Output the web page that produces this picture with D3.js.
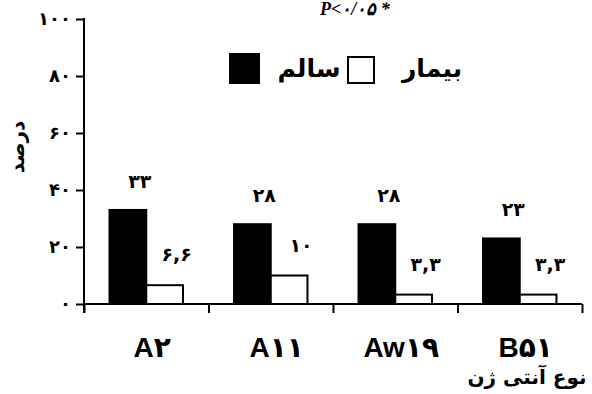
<html>
    <head>
        <meta charset="utf-8">
        <title>Antigen chart</title>
        <style>
            body { margin: 0; background: #fff; }
            text { font-weight: bold; fill: #000; }
        </style>
    </head>
    <body>
        <svg id="container" width="592" height="394"></svg>
    </body>
    <script src="https://d3js.org/d3.v7.min.js"></script>
    <script>
        // data
        let antigens = ["A۲", "A۱۱", "Aw۱۹", "B۵۱"]
        let series = ["سالم", "بیمار"]
        let healthy = [33, 28, 28, 23]
        let sick = [6.6, 10, 3.3, 3.3]
        let healthyLabels = ["۳۳", "۲۸", "۲۸", "۲۳"]
        let sickLabels = ["۶,۶", "۱۰", "۳,۳", "۳,۳"]
        let yTicks = [0, 20, 40, 60, 80, 100]

        let fa = "0123456789"
        let faDigits = "۰۱۲۳۴۵۶۷۸۹"
        function toFa(n) {
            return String(n).split("").map(c => fa.indexOf(c) >= 0 ? faDigits[fa.indexOf(c)] : c).join("")
        }

        let svg = d3.select("#container")
        let plotLeft = 84, plotRight = 582, plotTop = 19, plotBottom = 304

        let y = d3.scaleLinear().domain([0, 100]).range([plotBottom, plotTop])
        let x = d3.scaleBand().domain(antigens).range([plotLeft, plotRight])
                  .paddingInner(0.41).paddingOuter(0.205)
        let inner = d3.scaleBand().domain(series).range([0, x.bandwidth()])

        // bars
        let rows = antigens.map((a, i) => ({a: a, values: [
            {s: series[0], v: healthy[i], label: healthyLabels[i], fill: "#000"},
            {s: series[1], v: sick[i], label: sickLabels[i], fill: "#fff"}
        ]}))

        let groups = svg.selectAll("g.grp").data(rows).enter()
            .append("g").attr("class", "grp")
            .attr("transform", d => `translate(${x(d.a)},0)`)

        groups.selectAll("rect").data(d => d.values).enter()
            .append("rect")
            .attr("x", d => inner(d.s))
            .attr("y", d => y(d.v))
            .attr("width", inner.bandwidth())
            .attr("height", d => y(0) - y(d.v))
            .attr("fill", d => d.fill)
            .attr("stroke", "#000")
            .attr("stroke-width", 2)

        groups.selectAll("text").data(d => d.values).enter()
            .append("text")
            .attr("x", d => inner(d.s) + inner.bandwidth() / 2 + 12)
            .attr("y", (d, i) => y(d.v) - (i == 0 ? 22 : 24))
            .attr("text-anchor", "middle")
            .attr("font-family", "DejaVu Sans")
            .attr("font-size", 19)
            .attr("letter-spacing", (d, i) => i == 0 ? 0 : 2)
            .text(d => d.label)

        // y axis
        let yAxis = d3.axisLeft(y).tickValues(yTicks).tickSize(8).tickPadding(5)
                      .tickFormat(d => toFa(d))
        let gy = svg.append("g").attr("transform", `translate(${plotLeft},0)`).call(yAxis)
        gy.select(".domain").remove()
        gy.selectAll("line").attr("stroke", "#000").attr("stroke-width", 2)
        gy.selectAll("text").attr("font-family", "DejaVu Sans").attr("font-size", 18)
          .attr("font-weight", "bold")
        svg.append("line").attr("x1", plotLeft).attr("x2", plotLeft)
           .attr("y1", y(100) - 1).attr("y2", plotBottom + 9)
           .attr("stroke", "#000").attr("stroke-width", 2)

        // x axis: line with ticks on category borders
        let edges = d3.scaleLinear().domain([0, antigens.length]).range([plotLeft, plotRight])
        let xAxis = d3.axisBottom(edges).tickValues(d3.range(antigens.length + 1))
                      .tickSize(9).tickFormat("")
        let gx = svg.append("g").attr("transform", `translate(0,${plotBottom})`).call(xAxis)
        gx.select(".domain").attr("d", `M${plotLeft},0H${plotRight}`).attr("stroke-width", 2)
        gx.selectAll("line").attr("stroke-width", 2)

        // category labels
        svg.selectAll("text.cat").data(antigens).enter()
           .append("text").attr("class", "cat")
           .attr("x", d => x(d) + x.bandwidth() / 2 + 6)
           .attr("y", 357)
           .attr("text-anchor", "middle")
           .attr("font-family", "Liberation Sans, DejaVu Sans")
           .attr("font-size", 28)
           .text(d => d)

        // titles
        svg.append("text")
           .attr("transform", "translate(24,147) rotate(-90)")
           .attr("text-anchor", "middle")
           .attr("font-family", "DejaVu Sans")
           .attr("font-size", 20)
           .text("درصد")

        svg.append("text")
           .attr("x", 527).attr("y", 384)
           .attr("text-anchor", "middle")
           .attr("font-family", "DejaVu Sans")
           .attr("font-size", 20)
           .text("نوع آنتی ژن")

        svg.append("text")
           .attr("x", 355).attr("y", 15)
           .attr("text-anchor", "middle")
           .attr("font-family", "Liberation Serif, DejaVu Serif")
           .attr("font-style", "italic")
           .attr("font-size", 18)
           .text("P<۰/۰۵ *")

        // legend
        let legend = [
            {name: series[0], fill: "#000", box: 230, size: 29, tx: 309},
            {name: series[1], fill: "#fff", box: 348, size: 26, tx: 432}
        ]
        svg.selectAll("rect.leg").data(legend).enter()
           .append("rect").attr("class", "leg")
           .attr("x", d => d.box).attr("y", d => 83 - d.size)
           .attr("width", d => d.size).attr("height", d => d.size)
           .attr("fill", d => d.fill)
           .attr("stroke", "#000").attr("stroke-width", 2)
        svg.selectAll("text.leg").data(legend).enter()
           .append("text").attr("class", "leg")
           .attr("x", d => d.tx).attr("y", 77)
           .attr("text-anchor", "middle")
           .attr("font-family", "DejaVu Sans")
           .attr("font-size", 25)
           .text(d => d.name)
    </script>
</html>
